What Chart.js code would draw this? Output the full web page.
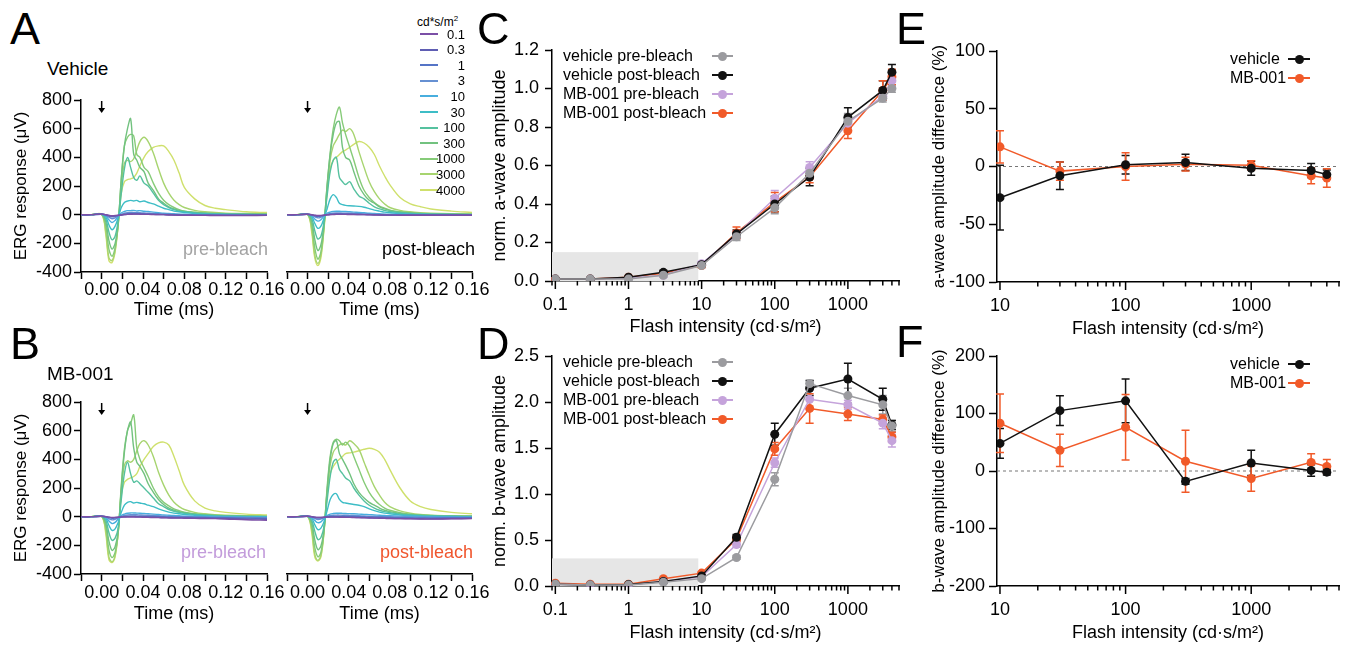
<!DOCTYPE html>
<html>
<head>
<meta charset="utf-8">
<script src="https://cdn.jsdelivr.net/npm/chart.js@4.4.1/dist/chart.umd.min.js"></script>
<style>
  body { margin: 0; width: 1346px; height: 648px; background: #fff; position: relative; overflow: hidden;
         font-family: "Liberation Sans", Arial, sans-serif; color: #000; }
  canvas { position: absolute; }
  .txt { position: absolute; line-height: 1; white-space: nowrap; }
  .mk { position: absolute; }
</style>
</head>
<body>
<canvas id="ergA1"></canvas>
<canvas id="ergA2"></canvas>
<canvas id="ergB1"></canvas>
<canvas id="ergB2"></canvas>
<canvas id="chartC"></canvas>
<canvas id="chartD"></canvas>
<canvas id="chartE"></canvas>
<canvas id="chartF"></canvas>
<script>
// ============================================================
// DATA
// ============================================================
const ERG_TIME = [-0.02, -0.01, 0, 0.004, 0.007, 0.010, 0.013, 0.016, 0.019, 0.022, 0.025, 0.028, 0.031, 0.034, 0.037,
                  0.041, 0.045, 0.05, 0.055, 0.06, 0.065, 0.07, 0.075, 0.08, 0.09, 0.1, 0.11, 0.12, 0.14, 0.16];
const INTENSITIES = ['0.1', '0.3', '1', '3', '10', '30', '100', '300', '1000', '3000', '4000'];
const ERG_COLORS  = ['#7b4fa6', '#5f5db3', '#5574c6', '#6690d2', '#48aede', '#3dbdc6',
                     '#55c19f', '#72c27f', '#86cb78', '#a7d46f', '#cfe06c'];

// ERG traces (µV), one row per flash intensity
const vehiclePreTraces = [
  [0,0,5,0,-5,-8,-6,-4,-2,0,2,3,4,4,3,2,2,1,0,0,-2,-3,-4,-4,-5,-5,-6,-6,-6,-5],
  [0,0,4,0,-6,-10,-8,-5,-2,1,3,4,5,5,4,3,3,2,1,0,-1,-2,-3,-3,-4,-4,-5,-5,-5,-4],
  [0,0,3,-2,-10,-15,-12,-6,-1,4,7,8,8,8,7,6,5,4,3,2,1,0,-1,-2,-3,-3,-4,-4,-4,-3],
  [0,0,3,-4,-18,-28,-22,-8,2,10,14,15,15,14,13,12,10,8,6,4,3,2,1,0,-1,-2,-2,-3,-3,-2],
  [0,0,3,-8,-35,-55,-40,-10,12,22,28,28,30,26,28,24,22,18,14,10,8,6,4,3,1,0,0,0,-1,0],
  [0,0,3,-15,-70,-105,-80,-20,50,85,95,100,95,100,90,95,85,75,60,45,35,25,20,15,8,5,3,2,1,0],
  [0,0,2,-30,-120,-175,-150,-40,150,320,400,330,260,240,270,220,200,150,100,70,50,35,25,20,12,8,5,4,2,1],
  [0,0,2,-50,-180,-240,-200,-60,250,480,600,670,420,380,330,300,220,170,110,80,55,40,30,25,15,10,6,5,3,2],
  [0,0,2,-80,-240,-290,-230,-70,250,480,540,560,550,420,400,330,300,220,150,100,70,50,35,25,18,12,8,6,4,3],
  [0,0,2,-120,-300,-320,-250,-60,200,360,380,370,390,450,510,540,510,430,320,220,150,100,70,50,30,20,15,10,8,6],
  [0,0,2,-140,-320,-335,-260,-70,150,230,245,250,260,290,340,400,440,470,480,480,440,380,290,190,110,64,45,35,20,15]
];
const vehiclePostTraces = [
  [0,0,3,0,-4,-6,-5,-3,-1,0,1,2,2,2,2,1,1,0,0,-1,-2,-2,-3,-3,-4,-4,-4,-4,-4,-4],
  [0,0,3,-1,-5,-8,-7,-4,-1,1,2,3,3,3,3,2,2,1,0,0,-1,-2,-2,-3,-3,-3,-3,-3,-3,-3],
  [0,0,3,-2,-8,-12,-10,-5,0,3,5,6,6,6,5,5,4,3,2,1,0,0,-1,-1,-2,-2,-2,-2,-2,-2],
  [0,0,3,-3,-14,-22,-18,-7,2,8,11,12,12,11,11,10,9,7,5,4,3,2,1,0,0,-1,-1,-1,-1,-1],
  [0,0,3,-6,-30,-45,-35,-10,10,18,22,24,24,22,22,20,18,16,13,10,8,6,4,3,2,1,0,0,0,0],
  [0,0,2,-12,-60,-95,-80,-25,40,110,140,120,80,70,65,62,60,58,52,42,32,25,18,14,8,5,3,2,1,0],
  [0,0,2,-25,-110,-170,-150,-50,130,300,380,400,260,230,210,230,180,130,110,80,55,40,30,22,14,9,6,4,2,1],
  [0,0,2,-45,-170,-250,-210,-70,200,420,560,640,650,470,400,380,300,200,140,100,80,55,40,30,18,12,8,5,3,2],
  [0,0,2,-70,-230,-310,-260,-80,200,430,600,700,750,640,560,470,380,260,170,120,85,60,45,32,20,14,9,6,4,3],
  [0,0,2,-100,-280,-340,-280,-90,180,380,480,520,560,590,580,600,560,440,330,230,160,110,75,50,30,20,14,10,6,4],
  [0,0,2,-120,-300,-355,-300,-100,150,320,380,400,420,440,450,470,490,510,500,470,420,340,270,210,120,75,55,40,25,15]
];
const mbPreTraces = [
  [0,0,3,0,-3,-5,-5,-4,-3,-2,-2,-2,-2,-3,-3,-4,-5,-6,-7,-8,-9,-10,-10,-11,-12,-13,-14,-16,-22,-25],
  [0,0,3,0,-4,-7,-6,-4,-2,-1,0,0,0,-1,-1,-2,-3,-4,-5,-6,-7,-8,-8,-9,-10,-11,-12,-13,-16,-18],
  [0,0,3,-1,-7,-11,-9,-5,-1,2,4,5,5,4,4,3,2,1,0,-1,-2,-3,-4,-4,-5,-6,-7,-8,-10,-12],
  [0,0,3,-3,-14,-22,-18,-8,2,8,12,14,14,13,12,11,10,8,6,4,2,1,0,-1,-2,-3,-4,-5,-6,-8],
  [0,0,3,-6,-30,-48,-40,-15,8,18,24,26,26,25,24,22,20,18,15,12,10,8,6,4,2,0,-1,-2,-3,-4],
  [0,0,2,-12,-60,-95,-85,-40,30,80,100,105,95,100,95,90,80,70,55,42,32,25,20,15,10,6,4,2,0,-2],
  [0,0,2,-25,-110,-165,-150,-80,120,300,380,300,240,250,230,200,170,130,90,70,50,38,30,24,15,10,6,4,2,0],
  [0,0,2,-45,-170,-235,-210,-100,200,450,600,660,480,380,350,300,230,170,120,85,60,45,35,28,18,12,8,6,3,1],
  [0,0,2,-70,-230,-285,-250,-110,220,470,600,650,710,480,400,340,280,200,140,100,75,55,42,32,20,14,9,6,4,2],
  [0,0,2,-100,-280,-315,-270,-110,180,360,390,380,400,460,510,530,500,420,310,220,150,100,70,50,30,20,14,10,6,4],
  [0,0,2,-120,-300,-320,-280,-110,150,240,260,270,280,300,350,400,440,490,515,520,500,420,320,220,110,60,40,30,18,12]
];
const mbPostTraces = [
  [0,0,3,0,-3,-5,-5,-4,-3,-3,-3,-3,-4,-4,-5,-5,-6,-7,-8,-9,-10,-11,-12,-13,-14,-15,-16,-17,-15,-14],
  [0,0,3,0,-4,-6,-6,-4,-2,-2,-2,-2,-2,-3,-3,-4,-5,-6,-7,-8,-9,-10,-11,-12,-13,-14,-15,-15,-13,-12],
  [0,0,3,-1,-6,-10,-9,-5,-1,1,2,3,3,3,2,2,1,0,-1,-2,-3,-4,-5,-6,-7,-8,-9,-10,-9,-8],
  [0,0,3,-3,-12,-20,-17,-8,2,7,10,11,11,10,10,9,8,6,5,3,2,1,0,-1,-2,-3,-4,-5,-5,-5],
  [0,0,3,-6,-26,-42,-36,-14,8,18,22,24,24,23,22,21,20,18,16,14,12,10,8,6,4,2,0,-1,-2,-3],
  [0,0,2,-12,-55,-90,-80,-35,40,120,155,160,120,100,95,90,85,80,70,55,42,32,25,20,12,8,5,3,1,0],
  [0,0,2,-25,-100,-160,-145,-70,110,280,380,400,330,300,270,250,200,150,110,80,60,45,35,28,18,12,8,5,3,1],
  [0,0,2,-40,-160,-230,-205,-90,180,400,510,530,440,400,360,300,230,170,130,100,80,60,45,35,22,15,10,7,4,2],
  [0,0,2,-65,-215,-280,-250,-100,200,420,520,540,530,500,520,490,420,330,240,170,120,85,60,45,28,18,12,8,5,3],
  [0,0,2,-90,-260,-305,-270,-105,170,360,450,480,500,510,500,530,510,470,380,290,210,150,100,70,40,25,16,11,7,5],
  [0,0,2,-110,-280,-310,-280,-110,150,300,350,380,400,420,440,445,450,460,470,477,470,450,400,330,200,110,70,50,30,20]
];

// Intensity-response (C, D)
const FLASH = [0.1, 0.3, 1, 3, 10, 30, 100, 300, 1000, 3000, 4000];
const SERIES_NAMES = ['vehicle pre-bleach', 'vehicle post-bleach', 'MB-001 pre-bleach', 'MB-001 post-bleach'];
const SERIES_COLORS = ['#9b9b9f', '#111111', '#c5a3db', '#f15a29'];

const aVehPre     = [0.01, 0.01, 0.01, 0.03, 0.08, 0.23, 0.38, 0.56, 0.83, 0.95, 1.00];
const aVehPreErr  = [0.005, 0.005, 0.005, 0.01, 0.01, 0.02, 0.03, 0.03, 0.04, 0.02, 0.02];
const aVehPost    = [0.01, 0.01, 0.02, 0.045, 0.085, 0.245, 0.40, 0.54, 0.85, 0.99, 1.085];
const aVehPostErr = [0.005, 0.005, 0.005, 0.01, 0.01, 0.02, 0.04, 0.045, 0.05, 0.05, 0.04];
const aMbPre      = [0.01, 0.01, 0.015, 0.03, 0.09, 0.24, 0.43, 0.59, 0.82, 0.96, 1.04];
const aMbPreErr   = [0.005, 0.005, 0.005, 0.01, 0.01, 0.02, 0.04, 0.03, 0.03, 0.02, 0.03];
const aMbPost     = [0.01, 0.01, 0.02, 0.04, 0.08, 0.25, 0.41, 0.54, 0.78, 0.99, 1.06];
const aMbPostErr  = [0.005, 0.005, 0.005, 0.01, 0.01, 0.03, 0.05, 0.03, 0.04, 0.05, 0.04];

const bVehPre     = [0.02, 0.01, 0.01, 0.04, 0.08, 0.31, 1.16, 2.20, 2.07, 1.97, 1.74];
const bVehPreErr  = [0.01, 0.01, 0.01, 0.01, 0.01, 0.02, 0.07, 0.04, 0.08, 0.10, 0.06];
const bVehPost    = [0.02, 0.01, 0.015, 0.05, 0.11, 0.53, 1.65, 2.15, 2.25, 2.03, 1.75];
const bVehPostErr = [0.01, 0.01, 0.01, 0.01, 0.01, 0.03, 0.12, 0.08, 0.17, 0.12, 0.05];
const bMbPre      = [0.02, 0.01, 0.01, 0.05, 0.10, 0.45, 1.34, 2.03, 1.97, 1.77, 1.58];
const bMbPreErr   = [0.01, 0.01, 0.01, 0.01, 0.01, 0.03, 0.05, 0.10, 0.05, 0.06, 0.07];
const bMbPost     = [0.03, 0.02, 0.02, 0.08, 0.14, 0.51, 1.49, 1.93, 1.87, 1.81, 1.62];
const bMbPostErr  = [0.01, 0.01, 0.01, 0.01, 0.01, 0.03, 0.07, 0.16, 0.07, 0.05, 0.05];

// Post- vs pre-bleach difference (E, F)
const FLASH_DIFF = [10, 30, 100, 300, 1000, 3000, 4000];
const DIFF_NAMES = ['vehicle', 'MB-001'];
const DIFF_COLORS = ['#111111', '#f15a29'];
const aDiffVeh    = [-27, -8, 1.5, 3.5, -1.5, -3.5, -7];
const aDiffVehErr = [28, 12, 8, 7, 6, 6, 4];
const aDiffMb     = [17, -4, 0, 2, 1, -8, -10];
const aDiffMbErr  = [14, 8, 12, 6, 4, 7, 8];
const bDiffVeh    = [48, 105, 122, -18, 14, 1, -2];
const bDiffVehErr = [26, 26, 38, 5, 22, 10, 5];
const bDiffMb     = [83, 36, 76, 17, -13, 15, 8];
const bDiffMbErr  = [51, 28, 57, 54, 22, 15, 12];

// ============================================================
// PLUGINS
// ============================================================
Chart.defaults.font.family = '"Liberation Sans", Arial, sans-serif';
Chart.defaults.color = '#000';

const errorBars = {
  id: 'errorBars',
  beforeDatasetsDraw(chart) {
    const { ctx } = chart;
    const ys = chart.scales.y;
    chart.data.datasets.forEach((ds, i) => {
      if (!ds.errors) return;
      const meta = chart.getDatasetMeta(i);
      ctx.save();
      ctx.strokeStyle = ds.borderColor;
      ctx.lineWidth = 1.5;
      meta.data.forEach((pt, j) => {
        const v = ds.data[j].y, e = ds.errors[j];
        const top = ys.getPixelForValue(v + e), bot = ys.getPixelForValue(v - e);
        ctx.beginPath();
        ctx.moveTo(pt.x, top); ctx.lineTo(pt.x, bot);
        ctx.moveTo(pt.x - 4, top); ctx.lineTo(pt.x + 4, top);
        ctx.moveTo(pt.x - 4, bot); ctx.lineTo(pt.x + 4, bot);
        ctx.stroke();
      });
      ctx.restore();
    });
  }
};

const shade = {
  id: 'shade',
  beforeDatasetsDraw(chart, args, o) {
    if (!o || !o.xMax) return;
    const { ctx, chartArea, scales } = chart;
    const x1 = scales.x.getPixelForValue(o.xMax);
    const y1 = scales.y.getPixelForValue(o.yMax);
    ctx.save();
    ctx.fillStyle = '#e6e6e6';
    ctx.fillRect(chartArea.left, y1, x1 - chartArea.left, chartArea.bottom - y1);
    ctx.restore();
  }
};

const zeroLine = {
  id: 'zeroLine',
  beforeDatasetsDraw(chart, args, o) {
    if (!o || !o.show) return;
    const { ctx, chartArea } = chart;
    const y = chart.scales.y.getPixelForValue(0);
    ctx.save();
    ctx.strokeStyle = '#777';
    ctx.lineWidth = 1;
    ctx.setLineDash([3, 3]);
    ctx.beginPath(); ctx.moveTo(chartArea.left, y); ctx.lineTo(chartArea.right, y); ctx.stroke();
    ctx.restore();
  }
};

// log axis tick marks: long for decades, short in between
const logTickMarks = {
  id: 'logTickMarks',
  afterDraw(chart) {
    const s = chart.scales.x, ctx = chart.ctx;
    ctx.save();
    ctx.strokeStyle = '#000';
    ctx.lineWidth = 1.5;
    s.ticks.forEach(t => {
      const px = s.getPixelForValue(t.value);
      ctx.beginPath(); ctx.moveTo(px, s.top); ctx.lineTo(px, s.top + (t.major ? 8 : 4.5)); ctx.stroke();
    });
    ctx.restore();
  }
};

// stimulus arrow at flash onset
const stimArrow = {
  id: 'stimArrow',
  afterDraw(chart) {
    const { ctx, chartArea } = chart;
    const x = chart.scales.x.getPixelForValue(0);
    const y0 = chartArea.top + 1, y1 = chartArea.top + 13;
    ctx.save();
    ctx.strokeStyle = '#000'; ctx.fillStyle = '#000'; ctx.lineWidth = 1.5;
    ctx.beginPath(); ctx.moveTo(x, y0); ctx.lineTo(x, y1 - 4); ctx.stroke();
    ctx.beginPath(); ctx.moveTo(x - 3.5, y1 - 5); ctx.lineTo(x + 3.5, y1 - 5); ctx.lineTo(x, y1); ctx.closePath(); ctx.fill();
    ctx.restore();
  }
};

// ============================================================
// HELPERS
// ============================================================
function placeCanvas(id, box) {
  const c = document.getElementById(id);
  c.width = box.w; c.height = box.h;
  c.style.left = box.x + 'px'; c.style.top = box.y + 'px';
  return c;
}

function decadeTicks(min, max) {
  const out = [];
  for (let e = Math.floor(Math.log10(min)); e <= Math.ceil(Math.log10(max)); e++) {
    for (let k = 1; k <= 9; k++) {
      const v = k * Math.pow(10, e);
      if (v >= min * 0.999 && v <= max * 1.001) out.push({ value: v, major: k === 1 });
    }
  }
  return out;
}

function addText(html, x, cy, size, opts = {}) {
  const d = document.createElement('div');
  d.className = 'txt';
  d.innerHTML = html;
  d.style.fontSize = size + 'px';
  d.style.left = x + 'px';
  d.style.top = (cy - size * 0.5) + 'px';
  if (opts.right) d.style.transform = 'translateX(-100%)';
  if (opts.color) d.style.color = opts.color;
  document.body.appendChild(d);
}

function addMarker(x1, x2, cy, color, dot) {
  const l = document.createElement('div');
  l.className = 'mk';
  Object.assign(l.style, { left: x1 + 'px', top: (Math.round(cy) - 1) + 'px', width: (x2 - x1) + 'px', height: '2px', background: color });
  document.body.appendChild(l);
  if (!dot) return;
  const d = document.createElement('div');
  d.className = 'mk';
  Object.assign(d.style, { left: ((x1 + x2) / 2 - 4.5) + 'px', top: (Math.round(cy) - 4.5) + 'px', width: '9px', height: '9px',
                           borderRadius: '50%', background: color });
  document.body.appendChild(d);
}

const axisBorder = { display: true, color: '#000', width: 1.5 };

// ============================================================
// ERG TRACE PANELS (A, B)
// ============================================================
function ergChart(id, box, plot, traces, showY, tickPad) {
  const cv = placeCanvas(id, box);
  const yw = showY ? plot.l - box.x : 0;
  const xh = box.y + box.h - plot.b;
  return new Chart(cv, {
    type: 'line',
    data: {
      datasets: traces.map((tr, i) => ({
        label: INTENSITIES[i],
        data: tr.map((v, j) => ({ x: ERG_TIME[j], y: v })),
        borderColor: ERG_COLORS[i],
        borderWidth: 1.4,
        pointRadius: 0,
        tension: 0.35,
        fill: false,
      }))
    },
    options: {
      responsive: false, animation: false, events: [],
      layout: { padding: { left: plot.l - box.x - yw, top: plot.t - box.y, right: box.x + box.w - plot.r, bottom: 0 } },
      plugins: { legend: { display: false }, tooltip: { enabled: false } },
      scales: {
        x: {
          type: 'linear', min: -0.02, max: 0.16,
          ticks: {
            stepSize: 0.02, autoSkip: false, maxRotation: 0, minRotation: 0, padding: tickPad,
            font: { size: 18 },
            callback: v => { const k = Math.round(v * 100); return (k >= 0 && k % 4 === 0) ? (k / 100).toFixed(2) : ''; }
          },
          grid: { drawOnChartArea: false, tickLength: 7, tickColor: '#000', tickWidth: 1.5 },
          border: axisBorder,
          title: { display: true, text: 'Time (ms)', font: { size: 18 }, padding: { top: 0, bottom: 0 } },
          afterFit: s => { s.height = xh; s.paddingLeft = 0; s.paddingRight = 0; }
        },
        y: {
          display: showY, min: -400, max: 800,
          ticks: { stepSize: 200, padding: 2, font: { size: 18 } },
          grid: { drawOnChartArea: false, tickLength: 7, tickColor: '#000', tickWidth: 1.5 },
          border: axisBorder,
          title: { display: true, text: 'ERG response (μV)', font: { size: 17 }, padding: { top: 11, bottom: 0 } },
          afterFit: s => { s.width = yw; s.paddingTop = 0; s.paddingBottom = 0; }
        }
      }
    },
    plugins: [stimArrow]
  });
}

ergChart('ergA1', { x: 0, y: 80, w: 290, h: 241 },   { l: 81, r: 267, t: 100, b: 272 }, vehiclePreTraces, true, 0);
ergChart('ergA2', { x: 280, y: 80, w: 220, h: 241 }, { l: 287, r: 472, t: 100, b: 272 }, vehiclePostTraces, false, 0);
ergChart('ergB1', { x: 0, y: 385, w: 290, h: 240 },  { l: 81, r: 267, t: 402, b: 574 }, mbPreTraces, true, 1);
ergChart('ergB2', { x: 280, y: 385, w: 220, h: 240 },{ l: 287, r: 472, t: 402, b: 574 }, mbPostTraces, false, 1);

// ============================================================
// INTENSITY-RESPONSE PANELS (C, D, E, F)
// ============================================================
function series(xs, ys, errs, color) {
  return {
    data: xs.map((x, i) => ({ x, y: ys[i] })),
    errors: errs,
    borderColor: color,
    backgroundColor: color,
    pointBackgroundColor: color,
    pointBorderWidth: 0,
    pointRadius: 4.5,
    borderWidth: 1.5,
    tension: 0,
    fill: false,
  };
}

function doseChart(id, box, plot, c) {
  const cv = placeCanvas(id, box);
  const yw = plot.l - box.x;
  const xh = box.y + box.h - plot.b;
  return new Chart(cv, {
    type: 'line',
    data: { datasets: c.datasets },
    options: {
      responsive: false, animation: false, events: [],
      layout: { padding: { left: 0, top: plot.t - box.y, right: box.x + box.w - plot.r, bottom: 0 } },
      plugins: {
        legend: { display: false }, tooltip: { enabled: false },
        shade: c.shade || {}, zeroLine: { show: !!c.zeroLine }
      },
      scales: {
        x: {
          type: 'logarithmic', min: c.xMin, max: c.xMax,
          afterBuildTicks: s => { s.ticks = decadeTicks(c.xMin, c.xMax); },
          ticks: {
            autoSkip: false, maxRotation: 0, minRotation: 0, padding: c.xTickPad, font: { size: 18 },
            callback: (v, i, ticks) => ticks[i] && ticks[i].major ? String(Number(v.toPrecision(3))) : ''
          },
          grid: { drawOnChartArea: false, drawTicks: false },
          border: axisBorder,
          title: { display: true, text: 'Flash intensity (cd·s/m²)', font: { size: 18 }, padding: { top: 0, bottom: c.xTitlePad } },
          afterFit: s => { s.height = xh; s.paddingLeft = 0; s.paddingRight = 0; }
        },
        y: {
          min: c.yMin, max: c.yMax,
          ticks: { stepSize: c.yStep, padding: c.yTickPad, font: { size: 18 }, callback: c.yFmt },
          grid: { drawOnChartArea: false, tickLength: c.yTickLen, tickColor: '#000', tickWidth: 1.5 },
          border: axisBorder,
          title: { display: true, text: c.yTitle, font: { size: c.yTitleSize }, padding: { top: c.yTitlePad, bottom: 0 } },
          afterFit: s => { s.width = yw; s.paddingTop = 0; s.paddingBottom = 0; }
        }
      }
    },
    plugins: [shade, zeroLine, errorBars, logTickMarks]
  });
}

// dataset order: first listed is drawn on top
doseChart('chartC', { x: 470, y: 30, w: 450, h: 310 }, { l: 552, r: 899, t: 50, b: 281 }, {
  datasets: [
    series(FLASH, aVehPre, aVehPreErr, SERIES_COLORS[0]),
    series(FLASH, aVehPost, aVehPostErr, SERIES_COLORS[1]),
    series(FLASH, aMbPre, aMbPreErr, SERIES_COLORS[2]),
    series(FLASH, aMbPost, aMbPostErr, SERIES_COLORS[3]),
  ],
  xMin: 0.09, xMax: 5000, xTickPad: 13, xTitlePad: 2,
  yMin: 0, yMax: 1.2, yStep: 0.2, yFmt: v => v.toFixed(1), yTickPad: 6, yTickLen: 7,
  yTitle: 'norm. a-wave amplitude', yTitleSize: 18, yTitlePad: 19,
  shade: { xMax: 9, yMax: 0.15 }
});

doseChart('chartD', { x: 470, y: 336, w: 450, h: 312 }, { l: 552, r: 899, t: 356, b: 586 }, {
  datasets: [
    series(FLASH, bVehPre, bVehPreErr, SERIES_COLORS[0]),
    series(FLASH, bVehPost, bVehPostErr, SERIES_COLORS[1]),
    series(FLASH, bMbPre, bMbPreErr, SERIES_COLORS[2]),
    series(FLASH, bMbPost, bMbPostErr, SERIES_COLORS[3]),
  ],
  xMin: 0.09, xMax: 5000, xTickPad: 13, xTitlePad: 4,
  yMin: 0, yMax: 2.5, yStep: 0.5, yFmt: v => v.toFixed(1), yTickPad: 6, yTickLen: 7,
  yTitle: 'norm. b-wave amplitude', yTitleSize: 18, yTitlePad: 19,
  shade: { xMax: 9, yMax: 0.3 }
});

doseChart('chartE', { x: 915, y: 30, w: 431, h: 310 }, { l: 997, r: 1339, t: 51, b: 282 }, {
  datasets: [
    series(FLASH_DIFF, aDiffVeh, aDiffVehErr, DIFF_COLORS[0]),
    series(FLASH_DIFF, aDiffMb, aDiffMbErr, DIFF_COLORS[1]),
  ],
  xMin: 9.47, xMax: 5000, xTickPad: 13, xTitlePad: 0,
  yMin: -100, yMax: 100, yStep: 50, yTickPad: 4, yTickLen: 8,
  yTitle: 'a-wave amplitude difference (%)', yTitleSize: 17, yTitlePad: 14,
  zeroLine: true
});

doseChart('chartF', { x: 915, y: 336, w: 431, h: 312 }, { l: 997, r: 1339, t: 356, b: 586 }, {
  datasets: [
    series(FLASH_DIFF, bDiffVeh, bDiffVehErr, DIFF_COLORS[0]),
    series(FLASH_DIFF, bDiffMb, bDiffMbErr, DIFF_COLORS[1]),
  ],
  xMin: 9.47, xMax: 5000, xTickPad: 13, xTitlePad: 4,
  yMin: -200, yMax: 200, yStep: 100, yTickPad: 4, yTickLen: 8,
  yTitle: 'b-wave amplitude difference (%)', yTitleSize: 17, yTitlePad: 14,
  zeroLine: true
});

// ============================================================
// TEXT, LEGENDS
// ============================================================
[['A', 10, 28], ['B', 10, 343], ['C', 477, 28], ['D', 477, 343], ['E', 896, 28], ['F', 896, 341]]
  .forEach(([t, x, cy]) => addText(t, x, cy, 45));

addText('Vehicle', 47, 68, 19);
addText('MB-001', 47, 373, 19);
addText('pre-bleach', 268, 249, 18, { right: true, color: '#a3a3a3' });
addText('post-bleach', 475, 249, 18, { right: true });
addText('pre-bleach', 266, 552, 18, { right: true, color: '#c39cdb' });
addText('post-bleach', 473, 552, 18, { right: true, color: '#f0562e' });

// ERG intensity legend
addText('cd*s/m<sup style="font-size:8px">2</sup>', 417, 21, 12);
INTENSITIES.forEach((lab, i) => {
  const cy = 34 + 15.6 * i;
  addMarker(420, 438, cy, ERG_COLORS[i], false);
  addText(lab, 465, cy, 13, { right: true });
});

// C / D legends
[[56, 75, 94, 113], [362, 381, 400, 419]].forEach(rows => {
  SERIES_NAMES.forEach((name, i) => {
    addText(name, 563, rows[i], 16);
    addMarker(712, 733, rows[i], SERIES_COLORS[i], true);
  });
});

// E / F legends
[[59, 78], [364, 383]].forEach(rows => {
  DIFF_NAMES.forEach((name, i) => {
    addText(name, 1230, rows[i], 16);
    addMarker(1288, 1310, rows[i], DIFF_COLORS[i], true);
  });
});
</script>
</body>
</html>
